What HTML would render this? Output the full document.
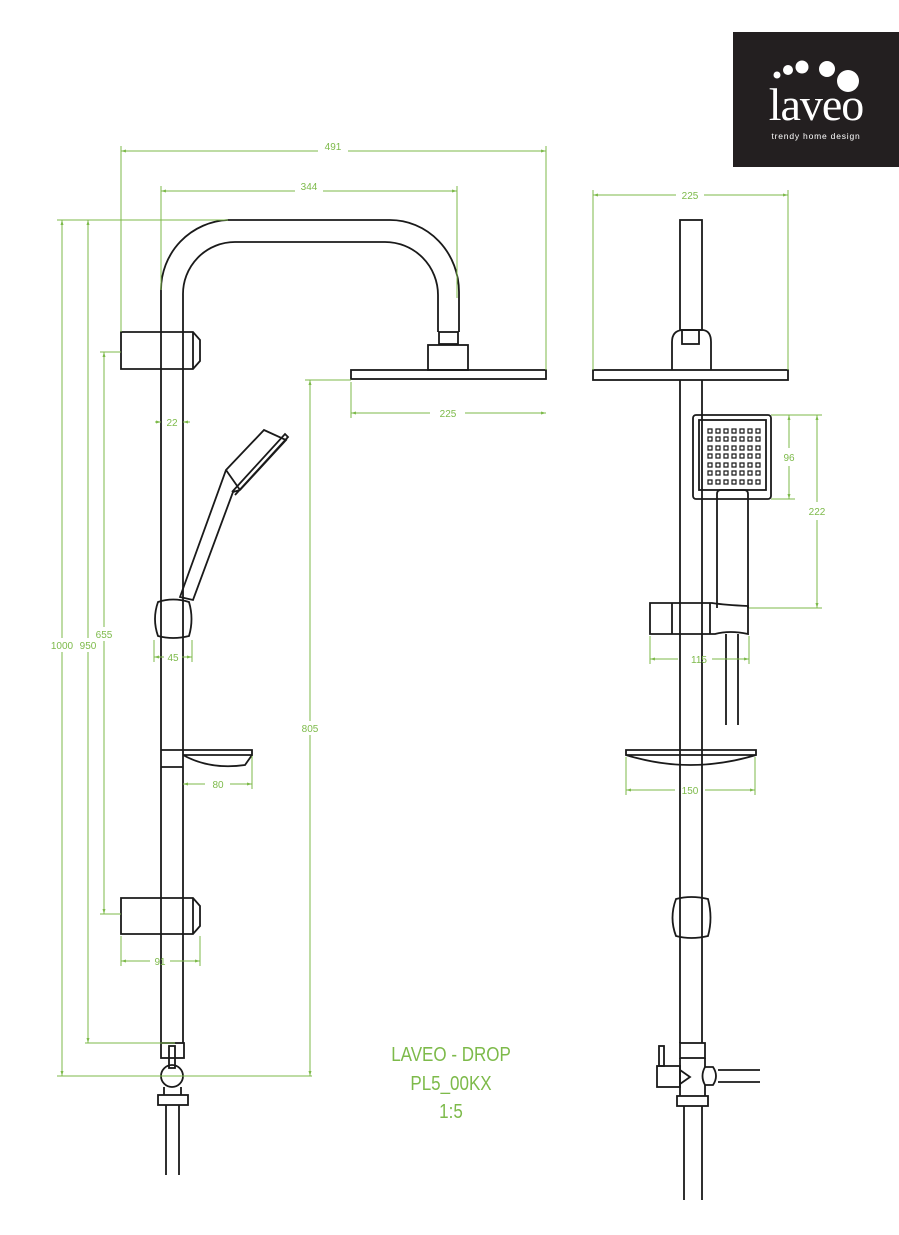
<!DOCTYPE html>
<html><head><meta charset="utf-8"><style>
html,body{margin:0;padding:0;background:#fff;}
svg{display:block;}
.k{fill:none;stroke:#1a1a1a;stroke-width:1.8;}
.g{fill:none;stroke:#7dba4a;stroke-width:1;}
.gt{fill:#7dba4a;font-family:"Liberation Sans",sans-serif;font-size:10px;text-anchor:middle;}
</style></head><body>
<svg width="899" height="1235" viewBox="0 0 899 1235" xmlns="http://www.w3.org/2000/svg">
<defs>
<marker id="a" viewBox="0 0 10 10" refX="10" refY="5" markerWidth="6" markerHeight="5" orient="auto-start-reverse"><path d="M0,2 L10,5 L0,8 z" fill="#7dba4a"/></marker>
</defs>
<!-- logo -->
<rect x="733" y="32" width="166" height="135" fill="#231f20"/>
<circle cx="777" cy="75" r="3.5" fill="#fff"/><circle cx="788" cy="70" r="5" fill="#fff"/><circle cx="802" cy="67" r="6.5" fill="#fff"/><circle cx="827" cy="69" r="8" fill="#fff"/><circle cx="848" cy="81" r="11" fill="#fff"/>
<text x="816" y="120" fill="#fff" font-family="Liberation Serif,serif" font-size="46" text-anchor="middle" letter-spacing="-1">laveo</text>
<text x="816" y="139" fill="#fff" font-family="Liberation Sans,sans-serif" font-size="8.5" text-anchor="middle" letter-spacing="0.8">trendy home design</text>

<!-- LEFT VIEW -->
<path class="k" d="M161,1043 V290 A70,70 0 0 1 228,220 H390 A69,72 0 0 1 459,292 V332 M183,1043 V295 A52,52 0 0 1 235,242 H385 A53,53 0 0 1 438,295 V332"/>
<rect class="k" x="439" y="332" width="19" height="12"/>
<rect class="k" x="428" y="345" width="40" height="25"/>
<rect class="k" x="351" y="370" width="195" height="9"/>
<path class="k" d="M121,332 H193 L200,340 V361 L193,369 H121 Z M193,332 V369" fill="#fff"/>
<!-- hand shower -->
<path class="k" d="M180,597 L226,470 L264,430 L286,440 L240,490 L233,492 L193,600 Z M226,470 L240,490 M232,492 L285,434 L288,437 L235,495"/>
<path class="k" d="M158,602 Q173,597 189,602 Q194,619 189,636 Q173,640 158,636 Q152,619 158,602 Z" fill="#fff"/>
<!-- soap dish -->
<path class="k" d="M161,750 H252 V755 H183 M161,767 H183 M183,755 Q210,770 245,765 L252,755"/>
<path class="k" d="M121,898 H193 L200,906 V926 L193,934 H121 Z M193,898 V934" fill="#fff"/>
<!-- valve -->
<rect class="k" x="161" y="1043" width="23" height="15"/>
<rect class="k" x="169" y="1046" width="6" height="22"/>
<circle class="k" cx="172" cy="1076" r="11" fill="#fff"/>
<path class="k" d="M164,1087 V1095 M181,1087 V1095"/>
<rect class="k" x="158" y="1095" width="30" height="10"/>
<path class="k" d="M166,1105 V1175 M179,1105 V1175"/>

<!-- left dims -->
<g class="g">
<line x1="121" y1="146" x2="121" y2="332"/><line x1="546" y1="146" x2="546" y2="370"/>
<line x1="121" y1="151" x2="318" y2="151" marker-start="url(#a)"/><line x1="348" y1="151" x2="546" y2="151" marker-end="url(#a)"/>
<line x1="161" y1="186" x2="161" y2="290"/><line x1="457" y1="186" x2="457" y2="298"/>
<line x1="161" y1="191" x2="295" y2="191" marker-start="url(#a)"/><line x1="323" y1="191" x2="457" y2="191" marker-end="url(#a)"/>
<line x1="351" y1="382" x2="351" y2="418"/>
<line x1="351" y1="413" x2="430" y2="413" marker-start="url(#a)"/><line x1="465" y1="413" x2="546" y2="413" marker-end="url(#a)"/>
<line x1="155" y1="422" x2="161" y2="422" marker-end="url(#a)"/><line x1="190" y1="422" x2="183" y2="422" marker-end="url(#a)"/>
<line x1="154" y1="640" x2="154" y2="662"/><line x1="192" y1="640" x2="192" y2="662"/>
<line x1="154" y1="657" x2="164" y2="657" marker-start="url(#a)"/><line x1="182" y1="657" x2="192" y2="657" marker-end="url(#a)"/>
<line x1="252" y1="756" x2="252" y2="789"/>
<line x1="183" y1="784" x2="205" y2="784" marker-start="url(#a)"/><line x1="230" y1="784" x2="252" y2="784" marker-end="url(#a)"/>
<line x1="121" y1="936" x2="121" y2="966"/><line x1="200" y1="936" x2="200" y2="966"/>
<line x1="121" y1="961" x2="150" y2="961" marker-start="url(#a)"/><line x1="170" y1="961" x2="200" y2="961" marker-end="url(#a)"/>
<line x1="57" y1="220" x2="228" y2="220"/>
<line x1="57" y1="1076" x2="312" y2="1076"/>
<line x1="85" y1="1043" x2="175" y2="1043"/>
<line x1="100" y1="352" x2="121" y2="352"/>
<line x1="100" y1="914" x2="121" y2="914"/>
<line x1="305" y1="380" x2="351" y2="380"/>
<line x1="62" y1="220" x2="62" y2="638" marker-start="url(#a)"/><line x1="62" y1="652" x2="62" y2="1076" marker-end="url(#a)"/>
<line x1="88" y1="220" x2="88" y2="638" marker-start="url(#a)"/><line x1="88" y1="652" x2="88" y2="1043" marker-end="url(#a)"/>
<line x1="104" y1="352" x2="104" y2="627" marker-start="url(#a)"/><line x1="104" y1="641" x2="104" y2="914" marker-end="url(#a)"/>
<line x1="310" y1="380" x2="310" y2="721" marker-start="url(#a)"/><line x1="310" y1="735" x2="310" y2="1076" marker-end="url(#a)"/>
</g>
<text class="gt" x="333" y="150">491</text>
<text class="gt" x="309" y="190">344</text>
<text class="gt" x="448" y="417">225</text>
<text class="gt" x="172" y="426">22</text>
<text class="gt" x="173" y="661">45</text>
<text class="gt" x="218" y="788">80</text>
<text class="gt" x="160" y="965">91</text>
<text class="gt" x="62" y="649">1000</text>
<text class="gt" x="88" y="649">950</text>
<text class="gt" x="104" y="638">655</text>
<text class="gt" x="310" y="732">805</text>

<!-- title -->
<g fill="#7dba4a" font-family="Liberation Sans Narrow,Liberation Sans,sans-serif" font-size="20" text-anchor="middle">
<text x="451" y="1061" transform="translate(451 0) scale(0.85 1) translate(-451 0)">LAVEO - DROP</text>
<text x="451" y="1090" transform="translate(451 0) scale(0.85 1) translate(-451 0)">PL5_00KX</text>
<text x="451" y="1118" transform="translate(451 0) scale(0.85 1) translate(-451 0)">1:5</text>
</g>

<!-- RIGHT VIEW -->
<rect class="k" x="680" y="220" width="22" height="110"/>
<path class="k" d="M672,370 V342 Q672,331 682,330 H703 Q711,331 711,342 V370" fill="#fff"/>
<rect class="k" x="682" y="330" width="17" height="14"/>
<rect class="k" x="593" y="370" width="195" height="10"/>
<path class="k" d="M680,380 V1043 M702,380 V1043"/>
<rect class="k" x="693" y="415" width="78" height="84" rx="3" fill="#fff"/>
<rect class="k" x="699" y="420" width="67" height="70"/>
<g fill="none" stroke="#1a1a1a" stroke-width="1.2">
<path d="M708,429h4v4h-4zM716,429h4v4h-4zM724,429h4v4h-4zM732,429h4v4h-4zM740,429h4v4h-4zM748,429h4v4h-4zM756,429h4v4h-4z"/>
<path d="M708,437h4v4h-4zM716,437h4v4h-4zM724,437h4v4h-4zM732,437h4v4h-4zM740,437h4v4h-4zM748,437h4v4h-4zM756,437h4v4h-4z"/>
<path d="M708,446h4v4h-4zM716,446h4v4h-4zM724,446h4v4h-4zM732,446h4v4h-4zM740,446h4v4h-4zM748,446h4v4h-4zM756,446h4v4h-4z"/>
<path d="M708,454h4v4h-4zM716,454h4v4h-4zM724,454h4v4h-4zM732,454h4v4h-4zM740,454h4v4h-4zM748,454h4v4h-4zM756,454h4v4h-4z"/>
<path d="M708,463h4v4h-4zM716,463h4v4h-4zM724,463h4v4h-4zM732,463h4v4h-4zM740,463h4v4h-4zM748,463h4v4h-4zM756,463h4v4h-4z"/>
<path d="M708,471h4v4h-4zM716,471h4v4h-4zM724,471h4v4h-4zM732,471h4v4h-4zM740,471h4v4h-4zM748,471h4v4h-4zM756,471h4v4h-4z"/>
<path d="M708,480h4v4h-4zM716,480h4v4h-4zM724,480h4v4h-4zM732,480h4v4h-4zM740,480h4v4h-4zM748,480h4v4h-4zM756,480h4v4h-4z"/>
</g>
<path class="k" d="M717,608 V494 Q717,490 721,490 H744 Q748,490 748,494 V608" fill="#fff"/>
<path class="k" d="M650,603 H712 Q725,605 748,606 V634 Q730,630 715,634 H650 Z M672,603 V634 M710,603 V634" fill="#fff"/>
<path class="k" d="M726,634 V725 M738,634 V725"/>
<path class="k" d="M626,750 H756 V755 H626 Z M626,755 Q690,775 756,755"/>
<path class="k" d="M676,899 Q691,895 708,899 Q713,918 708,936 Q691,940 676,936 Q669,918 676,899 Z" fill="#fff"/>
<rect class="k" x="680" y="1043" width="25" height="15"/>
<path class="k" d="M680,1058 L680,1096 M705,1058 V1067 M705,1085 V1096"/>
<rect class="k" x="659" y="1046" width="5" height="20"/>
<rect class="k" x="657" y="1066" width="23" height="21" fill="#fff"/>
<path class="k" d="M680,1070 L690,1077 L680,1084"/>
<path class="k" d="M705,1067 H713 Q719,1076 713,1085 H705 Q700,1076 705,1067 Z M718,1070 H760 M718,1082 H760"/>
<rect class="k" x="677" y="1096" width="31" height="10"/>
<path class="k" d="M684,1106 V1200 M702,1106 V1200"/>

<!-- right dims -->
<g class="g">
<line x1="593" y1="190" x2="593" y2="370"/><line x1="788" y1="190" x2="788" y2="370"/>
<line x1="593" y1="195" x2="676" y2="195" marker-start="url(#a)"/><line x1="704" y1="195" x2="788" y2="195" marker-end="url(#a)"/>
<line x1="771" y1="415" x2="822" y2="415"/><line x1="771" y1="499" x2="795" y2="499"/><line x1="749" y1="608" x2="822" y2="608"/>
<line x1="789" y1="415" x2="789" y2="448" marker-start="url(#a)"/><line x1="789" y1="466" x2="789" y2="499" marker-end="url(#a)"/>
<line x1="817" y1="415" x2="817" y2="502" marker-start="url(#a)"/><line x1="817" y1="520" x2="817" y2="608" marker-end="url(#a)"/>
<line x1="650" y1="636" x2="650" y2="664"/><line x1="749" y1="636" x2="749" y2="664"/>
<line x1="650" y1="659" x2="678" y2="659" marker-start="url(#a)"/><line x1="712" y1="659" x2="749" y2="659" marker-end="url(#a)"/>
<line x1="626" y1="757" x2="626" y2="795"/><line x1="755" y1="757" x2="755" y2="795"/>
<line x1="626" y1="790" x2="675" y2="790" marker-start="url(#a)"/><line x1="705" y1="790" x2="755" y2="790" marker-end="url(#a)"/>
</g>
<text class="gt" x="690" y="199">225</text>
<text class="gt" x="789" y="461">96</text>
<text class="gt" x="817" y="515">222</text>
<text class="gt" x="699" y="663">115</text>
<text class="gt" x="690" y="794">150</text>
</svg>
</body></html>
